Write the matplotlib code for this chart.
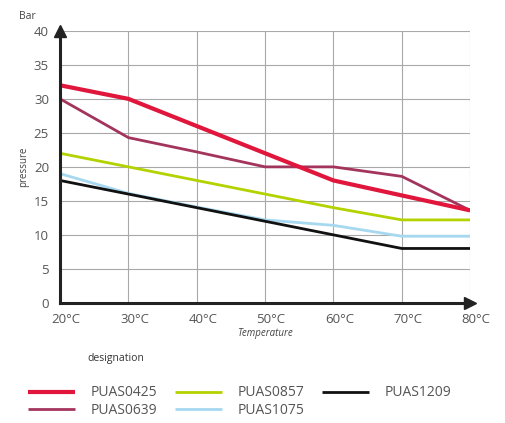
import matplotlib
matplotlib.use("Agg")
import matplotlib.pyplot as plt
from matplotlib.transforms import ScaledTranslation

plt.rcParams['font.family'] = ['Open Sans', 'DejaVu Sans']

temps = [20, 30, 40, 50, 60, 70, 80]
temp_labels = ['20°C', '30°C', '40°C', '50°C', '60°C', '70°C', '80°C']

names = ['PUAS0425', 'PUAS0639', 'PUAS0857', 'PUAS1075', 'PUAS1209']
puas0425 = [32, 30, 26, 22, 18, 15.8, 13.6]
puas0639 = [30, 24.3, 22.2, 20, 20, 18.6, 13.6]
puas0857 = [22, 20, 18, 16, 14, 12.2, 12.2]
puas1075 = [19, 16.1, 14.1, 12.2, 11.4, 9.8, 9.8]
puas1209 = [18, 16, 14, 12, 10, 8, 8]

colors = ['#e0163c', '#a3345c', '#b4d200', '#a6d8f0', '#111111']
widths = [3.0, 2.0, 2.0, 2.0, 2.0]
series = [puas0425, puas0639, puas0857, puas1075, puas1209]

fig = plt.figure(figsize=(5.05, 4.23), dpi=100)
ax = fig.add_axes([0.119, 0.284, 0.812, 0.643])

# draw order: light ones first, red on top
order = [3, 4, 2, 1, 0]
lines = {}
for i in order:
    ln, = ax.plot(temps, series[i], color=colors[i], lw=widths[i],
                  solid_capstyle='butt', label=names[i], zorder=3)
    lines[i] = ln

ax.set_xlim(20, 80)
ax.set_ylim(0, 40)
ax.set_xticks(temps)
ax.set_xticklabels(temp_labels)
ax.set_yticks(range(0, 41, 5))
ax.grid(True, color='#a8a8a8', lw=0.8)
ax.set_axisbelow(True)
ax.tick_params(length=0, labelsize=9.5, labelcolor='#555555')
ax.tick_params(axis='x', pad=7)
ax.tick_params(axis='y', pad=8)

# x labels sit a little right of their gridline in the reference
shift = ScaledTranslation(6 / 100, 0, fig.dpi_scale_trans)
for lab in ax.get_xticklabels():
    lab.set_transform(lab.get_transform() + shift)

for s in ['top', 'right']:
    ax.spines[s].set_visible(False)
for s in ['left', 'bottom']:
    ax.spines[s].set_linewidth(2.2)
    ax.spines[s].set_color('#222222')
    ax.spines[s].set_zorder(4)

ax.plot(1, 0, marker='>', color='#222222', ms=8, transform=ax.transAxes,
        clip_on=False, zorder=5)
ax.plot(0, 1, marker='^', color='#222222', ms=8, transform=ax.transAxes,
        clip_on=False, zorder=5)

ax.set_ylabel('pressure', fontsize=7, color='#444444', labelpad=3)
ax.set_xlabel('Temperature', fontsize=7, style='italic', color='#444444', labelpad=2)
fig.text(0.038, 0.962, 'Bar', fontsize=7.5, color='#444444', va='center')
fig.text(0.174, 0.153, 'designation', fontsize=7.5, color='#333333', va='center')

handles = [lines[i] for i in range(5)]
fig.legend(handles, names, loc='center left', bbox_to_anchor=(0.03, 0.05),
           ncol=3, frameon=False, fontsize=10, handlelength=3.4,
           handletextpad=1.1, columnspacing=1.3, labelspacing=0.2,
           labelcolor='#555555')

fig.savefig('out.png', dpi=100)
